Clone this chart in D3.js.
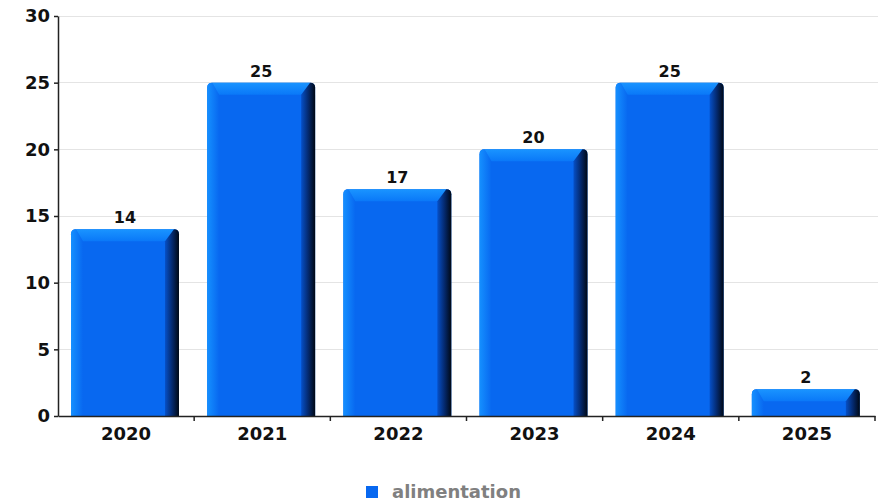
<!DOCTYPE html>
<html><head><meta charset="utf-8">
<script src="https://cdn.jsdelivr.net/npm/d3@7"></script>
<style>html,body{margin:0;padding:0;background:#fff;}svg{display:block;font-family:"DejaVu Sans",sans-serif;}</style>
</head><body><svg id="c" width="886" height="503"></svg>
<script>
const categories = ["2020","2021","2022","2023","2024","2025"];
const values = [14,25,17,20,25,2];
const yTicks = [0,5,10,15,20,25,30];
const seriesName = "alimentation";

const svg = d3.select("#c");
const m = {left:58, right:875, top:16, bottom:416};
const xb = d3.scaleBand().domain(categories).range([m.left,m.right]);
const y = d3.scaleLinear().domain([0,30]).range([m.bottom,m.top]);
const step = xb.step();
const barOff = step*0.0955, barW = step*0.793;

const defs = svg.append("defs");
const gl = defs.append("linearGradient").attr("id","gLeft").attr("x1",0).attr("x2",1).attr("y1",0).attr("y2",0);
gl.append("stop").attr("offset",0).attr("stop-color","#1590ff");
gl.append("stop").attr("offset",1).attr("stop-color","#0868f0");
const gr = defs.append("linearGradient").attr("id","gRight").attr("x1",0).attr("x2",1).attr("y1",0).attr("y2",0);
gr.append("stop").attr("offset",0).attr("stop-color","#0650c8");
gr.append("stop").attr("offset",0.5).attr("stop-color","#042a70");
gr.append("stop").attr("offset",1).attr("stop-color","#000814");
const gt = defs.append("linearGradient").attr("id","gTop").attr("x1",0).attr("x2",0).attr("y1",0).attr("y2",1);
gt.append("stop").attr("offset",0).attr("stop-color","#1a94ff");
gt.append("stop").attr("offset",1).attr("stop-color","#0a78f8");

// grid
svg.append("g").selectAll("line").data(yTicks.filter(d=>d>0)).join("line")
  .attr("x1",m.left).attr("x2",m.right+3).attr("y1",d=>y(d)).attr("y2",d=>y(d))
  .attr("stroke","#e4e4e4").attr("stroke-width",1).attr("shape-rendering","crispEdges");

// bars
const d = 12, r = 5;
const bars = svg.append("g").selectAll("g").data(categories.map((c,i)=>({c,v:values[i]}))).join("g");
bars.each(function(p){
  const g = d3.select(this);
  const x0 = xb(p.c)+barOff, w = barW, top = y(p.v), bot = y(0);
  const dd = Math.min(d, (bot-top)/2);
  g.append("path").attr("d",`M${x0},${bot} L${x0},${top+r} Q${x0},${top} ${x0+r},${top} L${x0+w-r},${top} Q${x0+w},${top} ${x0+w},${top+r} L${x0+w},${bot} Z`).attr("fill","#0868f0");
  g.append("path").attr("d",`M${x0},${bot} L${x0},${top+r} Q${x0},${top} ${x0+r},${top} L${x0+dd},${top+dd} L${x0+dd},${bot} Z`).attr("fill","url(#gLeft)");
  g.append("path").attr("d",`M${x0+r},${top} L${x0+w-r},${top} L${x0+w-dd},${top+dd} L${x0+dd},${top+dd} Z`).attr("fill","url(#gTop)");
  g.append("path").attr("d",`M${x0+w-r},${top} Q${x0+w},${top} ${x0+w},${top+r} L${x0+w},${bot} L${x0+w-dd-2},${bot} L${x0+w-dd-2},${top+dd} Z`).attr("fill","url(#gRight)");
  g.append("text").attr("x",x0+w/2).attr("y",top-6).attr("text-anchor","middle")
    .attr("font-size",16).attr("font-weight","bold").attr("fill","#111").text(p.v);
});

// y axis
const ya = svg.append("g").attr("transform",`translate(${m.left},0)`)
  .call(d3.axisLeft(y).tickValues(yTicks).tickSize(4).tickPadding(4).tickSizeOuter(0));
ya.select(".domain").attr("stroke","#222").attr("stroke-width",1.5);
ya.selectAll(".tick line").attr("stroke","#222").attr("stroke-width",1.5);
ya.selectAll("text").attr("font-size",18).attr("font-weight","bold").attr("fill","#111").attr("font-family","DejaVu Sans");

// x axis
const xa = svg.append("g").attr("transform",`translate(0,${m.bottom})`)
  .call(d3.axisBottom(xb).tickSize(0).tickPadding(11).tickSizeOuter(0));
xa.select(".domain").attr("stroke","#222").attr("stroke-width",1.5);
xa.selectAll("text").attr("font-size",18).attr("font-weight","bold").attr("fill","#111").attr("font-family","DejaVu Sans");
svg.append("g").selectAll("line").data(categories.slice(1).concat(["_end"])).join("line")
  .attr("x1",c=>c==="_end"?m.right:xb(c)).attr("x2",c=>c==="_end"?m.right:xb(c))
  .attr("y1",m.bottom).attr("y2",m.bottom+5).attr("stroke","#222").attr("stroke-width",1.5);

// legend
const lg = svg.append("g");
lg.append("rect").attr("x",366).attr("y",486).attr("width",12).attr("height",12).attr("fill","#0868f0");
lg.append("text").attr("x",392).attr("y",498).attr("font-size",18).attr("font-weight","bold").attr("fill","#808080").text(seriesName);
</script></body></html>
